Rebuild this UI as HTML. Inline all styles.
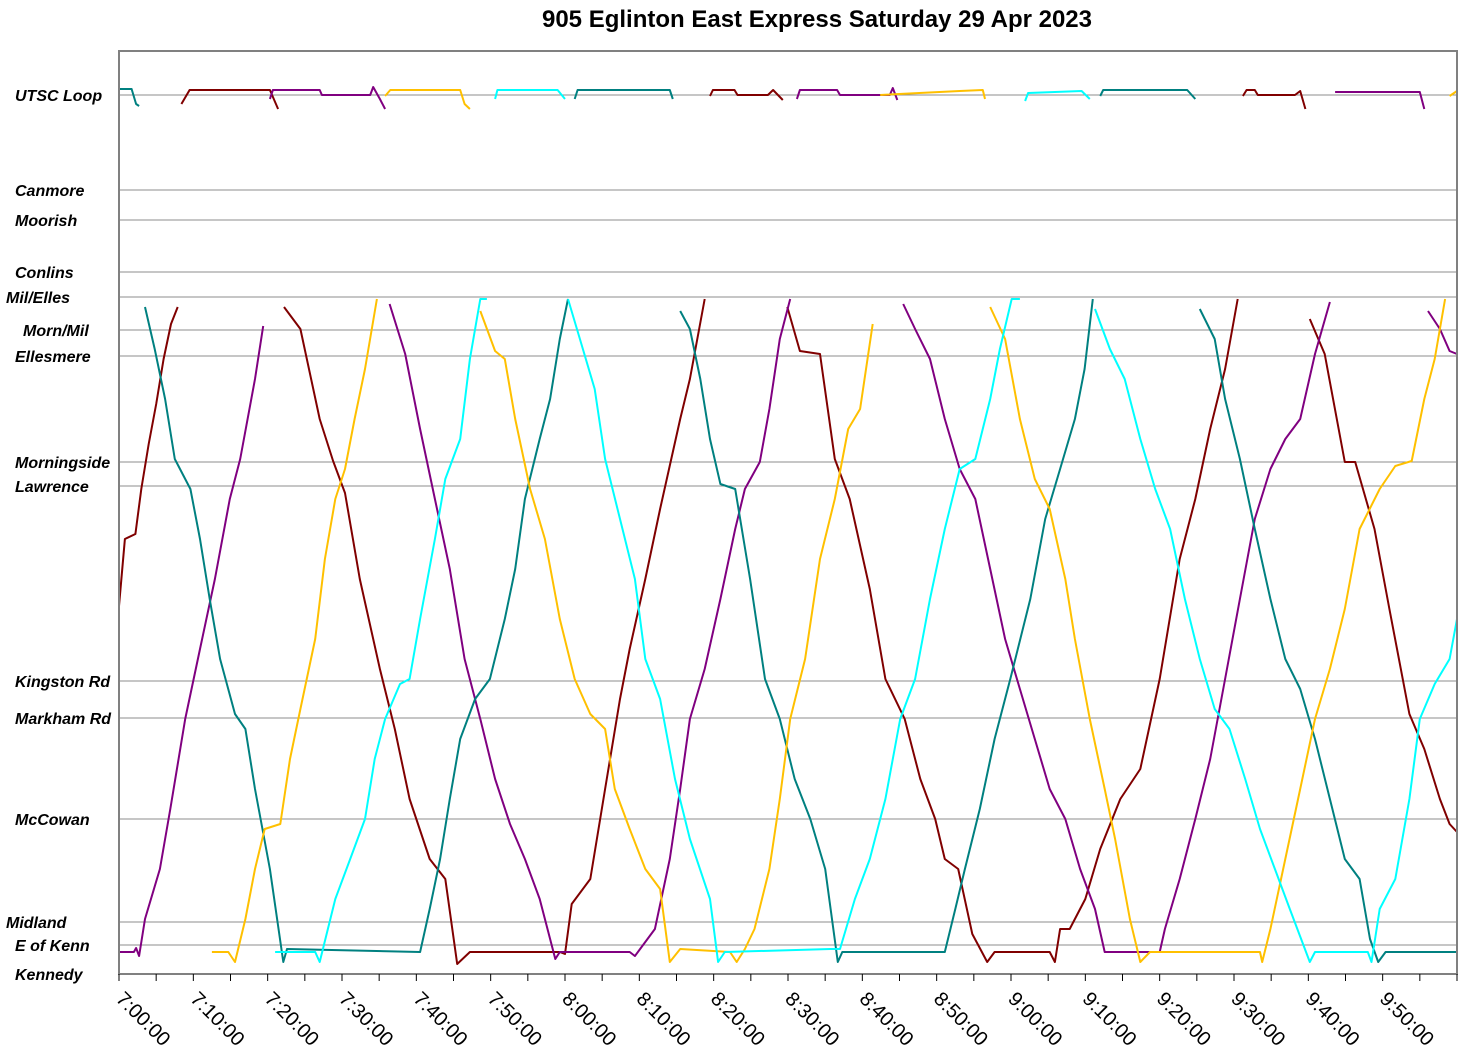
<!DOCTYPE html>
<html><head><meta charset="utf-8"><style>
body{margin:0;background:#fff;}
svg{display:block;font-family:"Liberation Sans",Arial,sans-serif;}
.st{font-size:16px;font-weight:bold;font-style:italic;fill:#000;}
.tk{font-size:20px;fill:#000;}
</style></head><body>
<svg id="chart" width="1472" height="1061" xmlns="http://www.w3.org/2000/svg">
<text x="817" y="27" text-anchor="middle" font-size="24" font-weight="bold">905 Eglinton East Express Saturday 29 Apr 2023</text>
<g id="grid"></g><g id="series"></g><g id="axes"></g>
</svg>
<script>
// stations: name and distance units from Kennedy
const stationNames=["UTSC Loop","Canmore","Moorish","Conlins","Mil/Elles","Morn/Mil","Ellesmere","Morningside","Lawrence","Kingston Rd","Markham Rd","McCowan","Midland","E of Kenn","Kennedy"];
const stationDist=[87.9,78.4,75.4,70.2,67.7,64.4,61.8,51.2,48.8,29.3,25.6,15.5,5.2,2.9,0];
const stationLabelX=[15,15,15,15,6,23,15,15,15,15,15,15,6,15,15];
const tickLabels=["7:00:00","7:10:00","7:20:00","7:30:00","7:40:00","7:50:00","8:00:00","8:10:00","8:20:00","8:30:00","8:40:00","8:50:00","9:00:00","9:10:00","9:20:00","9:30:00","9:40:00","9:50:00"];
const seriesColors=["#800000","#800080","#008080","#FFC000","#00FFFF"];
// trips: [minutes after 7:00, distance]
const redTrips=[
[[0,36.8],[0.8,43.5],[2.2,44],[3,48.5],[4,53],[5,57],[6,61.5],[7,65],[7.9,66.7]],
[[8.4,87],[9.5,88.4],[20.3,88.4],[21.4,86.5]],
[[22.2,66.7],[24.4,64.5],[27,55.5],[28.8,51.3],[30.4,48.1],[32.4,39.5],[35.1,30.5],[37.1,24.5],[39.1,17.5],[41.8,11.5],[43.9,9.5],[45.5,1],[47.2,2.2],[59.3,2.2],[60,2],[60.9,7],[63.4,9.5],[65.4,18.5],[67.4,27.5],[68.7,32.5],[70.8,39.5],[72.8,46.5],[75.5,55.5],[76.8,59.5],[78.8,67.5]],
[[79.5,87.8],[79.9,88.4],[82.8,88.4],[83.2,87.9],[87.3,87.9],[88,88.4],[89.3,87.4]],
[[89.9,66.7],[91.6,62.3],[94.3,62],[96.3,51.5],[98.3,47.5],[101,38.5],[103.1,29.5],[105.7,25.5],[107.8,19.5],[109.8,15.5],[111.1,11.5],[112.9,10.5],[114.8,4],[116.8,1.2],[117.8,2.2],[125.2,2.2],[125.9,1.2],[126.6,4.5],[127.9,4.5],[130,7.5],[132,12.5],[134.7,17.5],[137.4,20.5],[140,29.5],[142.7,41.5],[144.8,47.5],[146.8,54.5],[148.8,60.5],[150.5,67.5]],
[[151.2,87.8],[151.7,88.4],[152.8,88.4],[153.2,87.9],[158.2,87.9],[158.9,88.3],[159.6,86.5]],
[[160.2,65.5],[162.2,62],[164.9,51.2],[166.3,51.2],[168.9,44.5],[170.9,36.5],[173.6,26],[175.6,22.5],[177.7,17.5],[179,15],[180,14.2]]];
const purpleTrips=[
[[0,2.2],[2,2.2],[2.3,2.6],[2.7,1.8],[3.5,5.5],[5.5,10.5],[6.9,16.5],[8.9,25.5],[10.9,32.5],[12.9,39.5],[14.9,47.5],[16.3,51.5],[18.3,59.5],[19.4,64.8]],
[[20.3,87.5],[20.7,88.4],[27,88.4],[27.3,87.9],[33.8,87.9],[34.2,88.7],[35.1,87.5],[35.8,86.5]],
[[36.4,67],[38.5,62],[40.5,54.5],[42.5,47.5],[44.5,40.5],[46.5,31.5],[48.6,25.5],[50.6,19.5],[52.6,15],[54.6,11.5],[56.6,7.5],[58.7,1.5],[59.3,2.2],[68.7,2.2],[69.4,1.8],[70.1,2.5],[72.1,4.5],[74.1,11.5],[75.5,18.5],[76.8,25.5],[78.8,30.5],[80.9,37.5],[82.9,44.5],[84.2,48.5],[86.2,51.2],[87.5,56.5],[88.9,63.5],[90.3,67.5]],
[[91.2,87.5],[91.6,88.4],[96.6,88.4],[97,87.9],[103.7,87.9],[104.1,88.6],[104.7,87.4]],
[[105.5,67],[107.1,64.5],[109.1,61.5],[111.1,55.5],[113.1,50.5],[115.2,47.5],[117.2,40.5],[119.2,33.5],[121.2,28.5],[123.2,23.5],[125.2,18.5],[127.3,15.5],[129.3,10.5],[131.3,6.5],[132.6,2.2],[140,2.2],[140.7,4.5],[142.7,9.5],[144.8,15.5],[146.8,21.5],[148.8,29.5],[150.8,37.5],[152.8,45.5],[154.9,50.5],[156.9,53.5],[158.9,55.5],[160.9,62],[162.9,67.2]],
[[163.6,88.2],[175,88.2],[175.6,86.5]],
[[176.1,66.3],[177.7,64.5],[179,62.3],[180,62]]];
const tealTrips=[
[[0,88.5],[1.7,88.5],[2.3,87],[2.7,86.8]],
[[3.5,66.7],[4.8,62.5],[6.2,57.5],[7.5,51.5],[9.6,48.5],[10.9,43.5],[12.2,37.5],[13.6,31.5],[15.6,26],[17,24.5],[18.3,18.5],[20.3,10.5],[22.1,1.2],[22.6,2.5],[40.5,2.2],[41.8,6.5],[43.2,11.5],[44.5,17.5],[45.9,23.5],[47.9,27.5],[49.9,29.5],[51.9,35.5],[53.3,40.5],[54.6,47.5],[56.6,53.5],[58,57.5],[59.3,63.5],[60.4,67.5]],
[[61.3,87.5],[61.7,88.4],[74.1,88.4],[74.5,87.5]],
[[75.5,66.3],[76.8,64.5],[78.2,59.5],[79.5,53.5],[80.9,49],[82.9,48.5],[84.9,39.5],[86.9,29.5],[88.9,25.5],[90.9,19.5],[93,15.5],[95,10.5],[96.7,1.2],[97.3,2.2],[111.1,2.2],[112.5,6.5],[113.8,10.5],[115.8,16.5],[117.8,23.5],[119.9,29.5],[122.6,37.5],[124.6,45.5],[126.6,50.5],[128.6,55.5],[129.9,60.5],[131,67.5]],
[[132,87.8],[132.4,88.4],[143.7,88.4],[144.8,87.5]],
[[145.4,66.5],[147.4,63.5],[148.8,57.5],[150.8,51.5],[152.8,44.5],[154.9,37.5],[156.9,31.5],[158.9,28.5],[160.9,23.5],[162.9,17.5],[164.9,11.5],[166.9,9.5],[168.3,3.5],[169.4,1.2],[170.4,2.2],[180,2.2]]];
const goldTrips=[
[[12.5,2.2],[14.7,2.2],[15.6,1.2],[17,5.5],[18.3,10.5],[19.6,14.5],[21.7,15],[23,21.5],[24.4,26.5],[26.4,33.5],[27.7,41.5],[29.1,47.5],[30.4,50.5],[31.7,55.5],[33.1,60.5],[34.7,67.5]],
[[35.8,87.8],[36.5,88.4],[45.9,88.4],[46.5,87],[47.2,86.5]],
[[48.6,66.3],[50.6,62.3],[51.9,61.5],[53.3,55.5],[55.3,48.5],[57.3,43.5],[59.3,35.5],[61.3,29.5],[63.4,26],[65.4,24.5],[66.7,18.5],[68.7,14.5],[70.8,10.5],[72.8,8.5],[74.1,1.2],[75.5,2.5],[82.2,2.2],[83.1,1.2],[84.2,2.5],[85.5,4.5],[87.5,10.5],[88.9,17.5],[90.3,25.5],[92.3,31.5],[94.3,41.5],[96.3,47.5],[98.1,54.5],[99.7,56.5],[101.4,65]],
[[102.4,87.9],[113.1,88.3],[116.2,88.4],[116.5,87.5]],
[[117.2,66.7],[119.2,63.5],[121.2,55.5],[123.2,49.5],[125.2,46.5],[127.3,39.5],[128.6,33.5],[130.6,25.5],[132.6,18.5],[134,13.5],[136,5.5],[137.4,1.2],[138.7,2.2],[153.5,2.2],[153.8,1.2],[154.9,4.5],[156.9,11.5],[158.9,18.5],[160.9,25.5],[162.9,30.5],[164.9,36.5],[166.9,44.5],[169.6,48.5],[171.7,50.8],[173.9,51.3],[175.6,57.5],[177,61.5],[178.4,67.5]],
[[179,87.8],[180,88.3]]];
const cyanTrips=[
[[21,2.2],[26.4,2.2],[27,1.2],[29.1,7.5],[31.1,11.5],[33.1,15.5],[34.4,21.5],[35.8,25.5],[37.8,29],[39.1,29.5],[40.5,35.5],[42.5,43.5],[43.9,49.5],[45.9,53.5],[47.2,61.5],[48.6,67.5],[49.5,67.5]],
[[50.6,87.5],[50.9,88.4],[59,88.4],[60,87.5]],
[[60.4,67.5],[62,63.5],[64,58.5],[65.4,51.5],[67.4,45.5],[69.4,39.5],[70.8,31.5],[72.8,27.5],[74.8,19.5],[76.8,13.5],[79.5,7.5],[80.6,1.2],[81.5,2.2],[95.7,2.5],[97,2.5],[99,7.5],[101,11.5],[103.1,17.5],[105.1,25.5],[107.1,29.5],[109.1,37.5],[111.1,44.5],[113.1,50.5],[115.2,51.5],[117.2,57.5],[118.5,62.5],[120.1,67.5],[121.2,67.5]],
[[121.9,87.3],[122.3,88.1],[129.5,88.3],[130.6,87.5]],
[[131.3,66.5],[133.3,62.5],[135.3,59.5],[137.4,53.5],[139.4,48.5],[141.4,44.5],[143.4,37.5],[145.4,31.5],[147.4,26.5],[149.4,24.5],[151.5,19.5],[153.5,14.5],[155.5,10.5],[157.5,6.5],[160.2,1.2],[160.9,2.2],[168,2.2],[168.5,1.2],[169.6,6.5],[171.7,9.5],[173.6,17.5],[175,25.5],[177,29],[179,31.5],[180,35.5]]];

const L=119,R=1457,T=51,B=974;
const xS=t=>L+(R-L)*t/180;
const yS=v=>B-(B-T)*v/92.3;
const NS="http://www.w3.org/2000/svg";
function mk(tag,attrs,parent){const e=document.createElementNS(NS,tag);for(const k in attrs)e.setAttribute(k,attrs[k]);parent.appendChild(e);return e;}
const grid=document.getElementById('grid'),ser=document.getElementById('series'),ax=document.getElementById('axes');
stationNames.forEach((n,i)=>{
  const y=yS(stationDist[i]);
  if(stationDist[i]>0){const g=mk('line',{x1:L,x2:R,y1:y,y2:y,stroke:'#8c8c8c','stroke-width':1},grid);
  
  }
  const t=mk('text',{x:stationLabelX[i],y:y+6,class:'st'},ax);t.textContent=n;
  
  
});
const allTrips=[redTrips,purpleTrips,tealTrips,goldTrips,cyanTrips];
const names=['red','purple','teal','gold','cyan'];
allTrips.forEach((trips,si)=>{trips.forEach((tr,ti)=>{
  const p=mk('polyline',{points:tr.map(d=>xS(d[0]).toFixed(1)+','+yS(d[1]).toFixed(1)).join(' '),fill:'none',stroke:seriesColors[si],'stroke-width':2,'stroke-linejoin':'round'},ser);
  
  
});});
const fr=mk('rect',{x:L,y:T,width:R-L,height:B-T,fill:'none',stroke:'#808080','stroke-width':2},ax);


for(let m=0;m<=180;m+=5){const x=xS(m);const tk=mk('line',{x1:x,x2:x,y1:B,y2:B+7,stroke:'#000','stroke-width':1},ax);
  
  }
tickLabels.forEach((s,i)=>{const x=xS(i*10)-4;
  const t=mk('text',{x:x,y:1000,class:'tk',transform:'rotate(45 '+x+' 1000)'},ax);t.textContent=s;
  
  
});
</script>
</body></html>
